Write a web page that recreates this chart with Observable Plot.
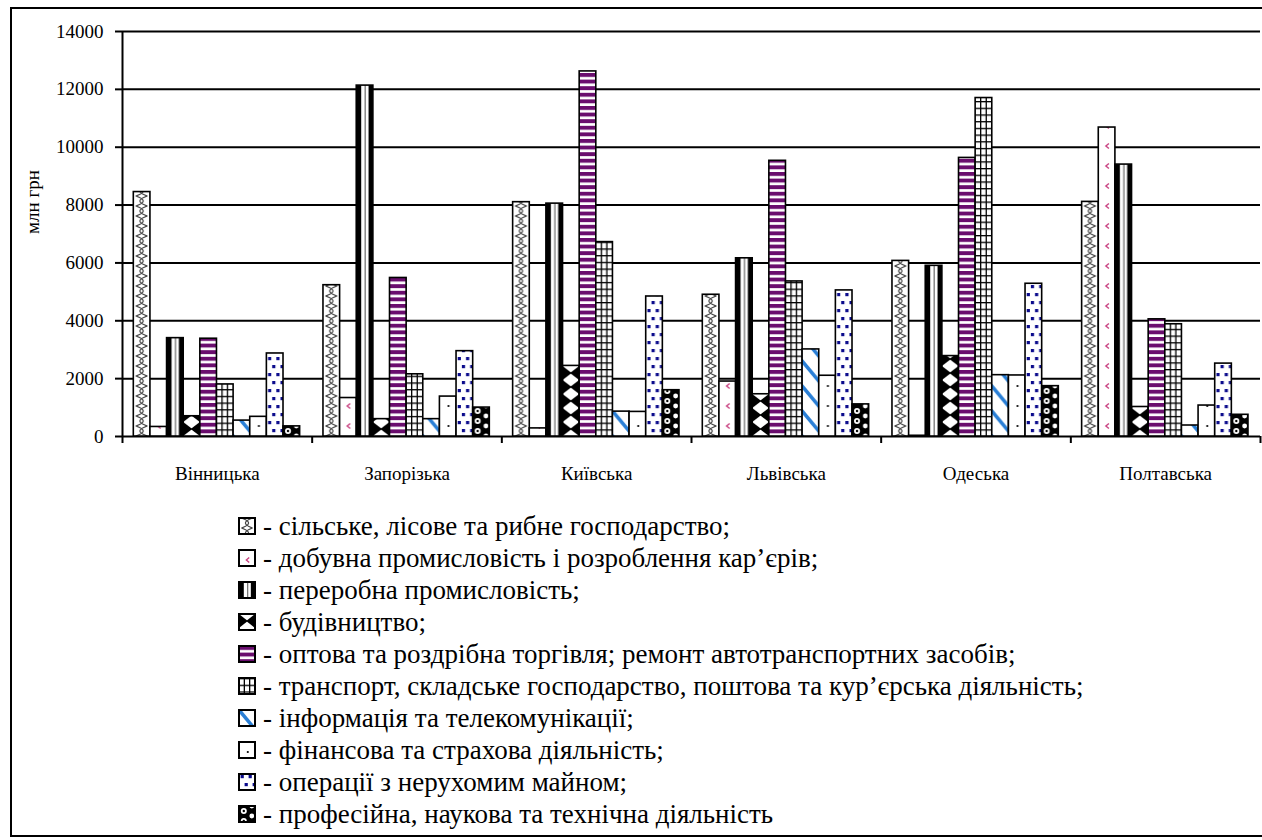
<!DOCTYPE html>
<html><head><meta charset="utf-8">
<script src="https://cdn.jsdelivr.net/npm/d3@7"></script>
<script src="https://cdn.jsdelivr.net/npm/@observablehq/plot@0.6"></script>
<style>
body{margin:0;background:#fff;font-family:"Liberation Serif","Times New Roman","DejaVu Serif",serif;color:#000;}
#frame{position:absolute;left:10px;top:7px;width:1300px;height:826px;border:2px solid #000;border-right:none;}
#chart{position:absolute;left:0;top:0;}
#legend{position:absolute;left:238px;top:510px;font-size:27px;line-height:32px;}
.item{display:flex;align-items:center;height:32px;white-space:nowrap;}
.item svg{margin-right:7px;flex:none;}
</style></head><body>
<div id="frame"></div>
<div id="chart"></div>
<div id="legend"></div>
<script>
const regions = ["Вінницька","Запорізька","Київська","Львівська","Одеська","Полтавська"];
const sectors = [
  "сільське, лісове та рибне господарство;",
  "добувна промисловість і розроблення кар’єрів;",
  "переробна промисловість;",
  "будівництво;",
  "оптова та роздрібна торгівля; ремонт автотранспортних засобів;",
  "транспорт, складське господарство, поштова та кур’єрська діяльність;",
  "інформація та телекомунікації;",
  "фінансова та страхова діяльність;",
  "операції з нерухомим майном;",
  "професійна, наукова та технічна діяльність"
];
const vAgri         = [8450, 5230, 8100, 4900, 6070, 8110];
const vMining       = [330, 1330, 280, 1900, 25, 10680];
const vManufacture  = [3400, 12130, 8050, 6160, 5900, 9400];
const vConstruction = [700, 600, 2440, 1460, 2780, 1020];
const vTrade        = [3380, 5480, 12620, 9530, 9630, 4050];
const vTransport    = [1800, 2150, 6720, 5360, 11700, 3880];
const vInfo         = [550, 600, 860, 3010, 2120, 380];
const vFinance      = [680, 1380, 850, 2100, 2110, 1070];
const vRealEstate   = [2870, 2950, 4840, 5050, 5280, 2520];
const vProfessional = [350, 1000, 1600, 1110, 1740, 750];
const yTicks = [0, 2000, 4000, 6000, 8000, 10000, 12000, 14000];
const yLabel = "млн грн";

const series = [vAgri, vMining, vManufacture, vConstruction, vTrade, vTransport, vInfo, vFinance, vRealEstate, vProfessional];

// layout of bars inside each region group (fractions of a group)
const groupPad = 0.0596, barW = 0.0877;
const rows = [];
regions.forEach((r, ri) => series.forEach((vals, si) => rows.push({
  region: r, sector: sectors[si], value: vals[ri],
  x1: ri + groupPad + si * barW, x2: ri + groupPad + (si + 1) * barW
})));

const FONT = '"Liberation Serif", "Times New Roman", "DejaVu Serif", serif';
const svgNS = "http://www.w3.org/2000/svg";
const tileH = [10, 20, 10, 14, 6.6, 6.7, 25, 20, 16, 10];
function drawTile(k, W, H, p) {
  const g = d3.select(p);
  g.append("rect").attr("width", W).attr("height", H).attr("fill", k === 9 ? "#000" : "#fff");
  if (k === 0) {
    g.append("path").attr("d", `M${0.15*W},0 Q${1.05*W},${H/2} ${0.15*W},${H}`).attr("fill","none").attr("stroke","#444").attr("stroke-width",1.2);
    g.append("path").attr("d", `M${0.85*W},0 Q${-0.05*W},${H/2} ${0.85*W},${H}`).attr("fill","none").attr("stroke","#444").attr("stroke-width",1.2);
  } else if (k === 1) {
    g.append("path").attr("d", `M${0.64*W},${H/2-2.5} L${0.46*W},${H/2} L${0.64*W},${H/2+2.5}`).attr("fill","none").attr("stroke","#c8407f").attr("stroke-width",1.4);
  } else if (k === 2) {
    g.append("rect").attr("x", 0).attr("width", 0.3*W).attr("height", H).attr("fill", "#000");
    g.append("rect").attr("x", 0.5*W).attr("width", 0.08*W).attr("height", H).attr("fill", "#777");
    g.append("rect").attr("x", 0.74*W).attr("width", 0.26*W).attr("height", H).attr("fill", "#000");
  } else if (k === 3) {
    g.append("polygon").attr("points", `0,0 ${0.55*W},${H/2} 0,${H}`).attr("fill","#000");
    g.append("polygon").attr("points", `${W},0 ${0.45*W},${H/2} ${W},${H}`).attr("fill","#000");
  } else if (k === 4) {
    g.append("rect").attr("width", W).attr("height", 3.9).attr("fill", "#6a0d6e");
  } else if (k === 5) {
    g.append("rect").attr("y", 0).attr("width", W).attr("height", 1.3).attr("fill", "#000");
    g.append("rect").attr("x", W/3 - 0.65).attr("width", 1.3).attr("height", H).attr("fill", "#000");
    g.append("rect").attr("x", 2*W/3 - 0.65).attr("width", 1.3).attr("height", H).attr("fill", "#000");
  } else if (k === 6) {
    for (const o of [-H, 0, H]) {
      g.append("line").attr("x1", -2).attr("y1", o - 2.4).attr("x2", W + 2).attr("y2", o + 1.2*(W + 2))
        .attr("stroke", "#2a7fd6").attr("stroke-width", 3.6);
    }
  } else if (k === 7) {
    g.append("circle").attr("cx", 0.55*W).attr("cy", H/2).attr("r", 1.1).attr("fill", "#000");
  } else if (k === 8) {
    for (const [x, y] of [[0.1, 1], [0.6, 1], [0.35, 9], [0.85, 9]]) {
      g.append("rect").attr("x", x*W).attr("y", y).attr("width", 3.2).attr("height", 3.2).attr("fill", "#0b0b8c");
    }
  } else if (k === 9) {
    g.append("circle").attr("cx", 0.3*W).attr("cy", H/2).attr("r", 3).attr("fill", "#fff");
    g.append("circle").attr("cx", 0.3*W).attr("cy", H/2).attr("r", 1.2).attr("fill", "#000");
    g.append("circle").attr("cx", 0.8*W).attr("cy", 0).attr("r", 2.4).attr("fill", "#fff");
    g.append("circle").attr("cx", 0.8*W).attr("cy", H).attr("r", 2.4).attr("fill", "#fff");
  }
}
function makePattern(defs, id, k, x, y, W) {
  const pat = document.createElementNS(svgNS, "pattern");
  pat.setAttribute("id", id);
  pat.setAttribute("patternUnits", "userSpaceOnUse");
  pat.setAttribute("x", x); pat.setAttribute("y", y);
  pat.setAttribute("width", W); pat.setAttribute("height", tileH[k]);
  drawTile(k, W, tileH[k], pat);
  defs.appendChild(pat);
}

const chart = Plot.plot({
  width: 1262, height: 500,
  marginLeft: 122, marginRight: 2, marginTop: 31, marginBottom: 64,
  style: {fontFamily: FONT, fontSize: "19px", background: "transparent", color: "#000"},
  x: {type: "linear", domain: [0, regions.length], axis: null},
  y: {type: "linear", domain: [0, 14000], axis: null},
  color: {type: "ordinal", domain: sectors, range: sectors.map((_, i) => `url(#pat${i})`)},
  marks: [
    Plot.ruleY(yTicks, {stroke: "#000", strokeWidth: 2}),
    Plot.rectY(rows, {x1: "x1", x2: "x2", y1: () => 0, y2: "value", fill: "sector", stroke: "#000", strokeWidth: 1.6}),
    Plot.ruleX([0], {stroke: "#000", strokeWidth: 2}),
    Plot.axisY({ticks: yTicks, tickSize: 7, tickPadding: 12, tickFormat: d3.format("d"), label: null, strokeWidth: 2, fontSize: 19}),
    Plot.axisX({ticks: d3.range(regions.length + 1), tickSize: 7, tickFormat: () => "", label: null, strokeWidth: 2}),
    Plot.text(regions, {x: (d, i) => i + 0.5, y: () => 0, text: d => d, dy: 37, fontSize: 19, fill: "#000"}),
    Plot.text([yLabel], {frameAnchor: "left", text: d => d, rotate: -90, dx: -90, fontSize: 19, fill: "#000"})
  ]
});
chart.style.fontFamily = FONT;
document.getElementById("chart").appendChild(chart);

// give each bar its own pattern tile aligned to the bar
const defs = document.createElementNS(svgNS, "defs");
chart.insertBefore(defs, chart.firstChild);
chart.querySelectorAll("rect").forEach((r, j) => {
  const f = r.getAttribute("fill") || "";
  const m = f.match(/url\(#pat(\d+)\)/);
  if (!m) return;
  const k = +m[1];
  const x = +r.getAttribute("x"), y = +r.getAttribute("y"), w = +r.getAttribute("width"), h = +r.getAttribute("height");
  const id = `pb${j}`;
  makePattern(defs, id, k, x, y + h, w);
  r.setAttribute("fill", `url(#${id})`);
});

// legend
const legend = document.getElementById("legend");
sectors.forEach((s, k) => {
  const item = document.createElement("div");
  item.className = "item";
  const sv = document.createElementNS(svgNS, "svg");
  sv.setAttribute("width", 18); sv.setAttribute("height", 18);
  const d = document.createElementNS(svgNS, "defs");
  sv.appendChild(d);
  makePattern(d, `leg${k}`, k, 1, 1, 16);
  const rc = document.createElementNS(svgNS, "rect");
  rc.setAttribute("x", 1); rc.setAttribute("y", 1); rc.setAttribute("width", 16); rc.setAttribute("height", 16);
  rc.setAttribute("fill", `url(#leg${k})`); rc.setAttribute("stroke", "#000"); rc.setAttribute("stroke-width", 2);
  sv.appendChild(rc);
  item.appendChild(sv);
  const t = document.createElement("span");
  t.textContent = "- " + s;
  item.appendChild(t);
  legend.appendChild(item);
});
</script>
</body></html>
